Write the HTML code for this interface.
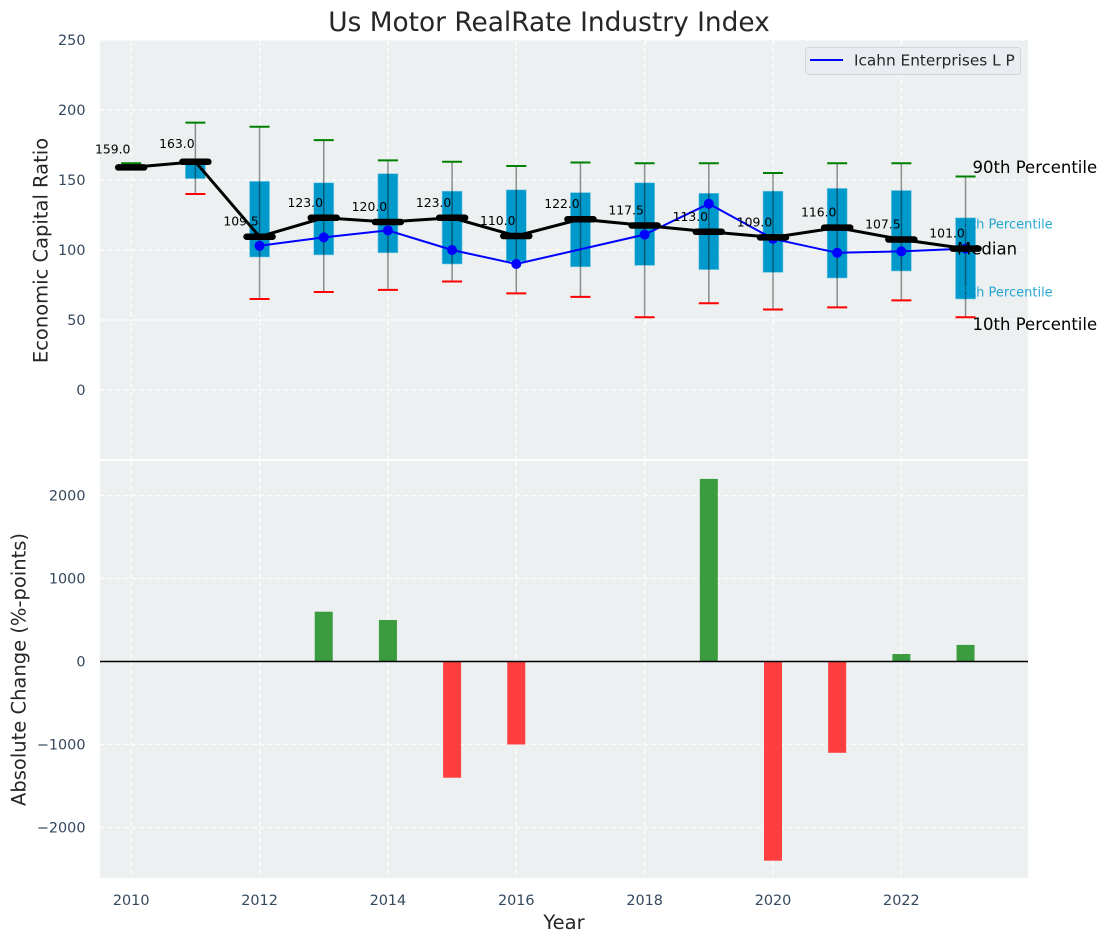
<!DOCTYPE html>
<html lang="en">
<head>
<meta charset="utf-8">
<title>Us Motor RealRate Industry Index</title>
<style>
html,body{margin:0;padding:0;background:#fff;}
svg{display:block;font-family:"DejaVu Sans","Liberation Sans",sans-serif;}
</style>
</head>
<body>
<svg id="chart" xmlns="http://www.w3.org/2000/svg" width="1107" height="942" viewBox="0 0 1107 942">
<rect x="100" y="40" width="928" height="419" fill="#ecf0f1"/>
<rect x="100" y="461" width="928" height="417" fill="#ecf0f1"/>
<g id="grid"></g>
<g id="bars"></g>
<g id="boxes"></g>
<g id="lines"></g>
<g id="labels"></g>
<text x="549" y="31" text-anchor="middle" font-size="26.4" fill="#262626">Us Motor RealRate Industry Index</text>
<text transform="translate(47.5,250.5) rotate(-90)" text-anchor="middle" font-size="19.5" fill="#262626">Economic Capital Ratio</text>
<text transform="translate(25.5,669.5) rotate(-90)" text-anchor="middle" font-size="19.5" fill="#262626">Absolute Change (%-points)</text>
<text x="564" y="929" text-anchor="middle" font-size="19.5" fill="#262626">Year</text>
<g>
<rect x="805.5" y="47.5" width="215" height="27" rx="3" fill="#e9ecf0" stroke="#d3d6d9" stroke-width="1"/>
<line x1="810" y1="60" x2="843" y2="60" stroke="#0000ff" stroke-width="2"/>
<text x="854" y="65.5" font-size="15.3" fill="#262626">Icahn Enterprises L P</text>
</g>
</svg>
<script>
const years = [2010,2011,2012,2013,2014,2015,2016,2017,2018,2019,2020,2021,2022,2023];
const p90 = [162,191,188,178.5,164,163,160,162.5,162,162,155,162,162,152.5];
const p75 = [null,163,149,148,154.5,142,143,141,148,140.5,142,144,142.5,123];
const medians = [159,163,109.5,123,120,123,110,122,117.5,113,109,116,107.5,101];
const p25 = [null,151,95,96.5,98,90,92,88,89,86,84,80,85,65];
const p10 = [null,140,65,70,71.5,77.5,69,66.5,52,62,57.5,59,64,52];
const company = [null,null,103,109,114,100,90,null,111,133,108,98,99,101];
const changes = [null,null,null,600,500,-1400,-1000,null,null,2200,-2400,-1100,90,200];
const xTicks = [2010,2012,2014,2016,2018,2020,2022];
const yTopTicks = [0,50,100,150,200,250];
const yBottomTicks = [-2000,-1000,0,1000,2000];

const SVGNS = 'http://www.w3.org/2000/svg';
const xScale = v => 131.2 + (v - 2010) * 64.18;
const yTop = v => 390 - v * 1.4;
const yBottom = v => 661.5 - v * 0.083;

function mk(tag, parent, attrs, text) {
  const n = document.createElementNS(SVGNS, tag);
  for (const k in attrs) n.setAttribute(k, attrs[k]);
  if (text !== undefined) n.textContent = text;
  document.getElementById(parent).appendChild(n);
  return n;
}
let el;
const gridStyle = {stroke:'#ffffff','stroke-width':1.2,'stroke-dasharray':'5 3',opacity:0.95};

xTicks.forEach(t => {
  el = mk('line','grid',Object.assign({x1:xScale(t),x2:xScale(t),y1:40,y2:459},gridStyle));
  
  
  el = mk('line','grid',Object.assign({x1:xScale(t),x2:xScale(t),y1:461,y2:878},gridStyle));
  
  
  el = mk('text','labels',{x:xScale(t),y:905,'text-anchor':'middle','font-size':14.4,fill:'#34495e'},String(t));
  
  
});
yTopTicks.forEach(t => {
  el = mk('line','grid',Object.assign({x1:100,x2:1028,y1:yTop(t),y2:yTop(t)},gridStyle));
  
  
  el = mk('text','labels',{x:85.5,y:yTop(t)+5,'text-anchor':'end','font-size':14.4,fill:'#34495e'},String(t));
  
  
});
yBottomTicks.forEach(t => {
  el = mk('line','grid',Object.assign({x1:100,x2:1028,y1:yBottom(t),y2:yBottom(t)},gridStyle));
  
  
  el = mk('text','labels',{x:85.5,y:yBottom(t)+5,'text-anchor':'end','font-size':14.4,fill:'#34495e'},String(t).replace('-','\u2212'));
  
  
});

changes.forEach((v,i) => {
  if (v === null) return;
  const y0 = yBottom(0), y1 = yBottom(v);
  el = mk('rect','bars',{x:xScale(years[i])-9,width:18,y:Math.min(y0,y1),height:Math.abs(y1-y0),fill:v>=0?'#3a9c3e':'#ff3f3f'});
  
  
});
el = mk('line','bars',{x1:100,x2:1028,y1:yBottom(0),y2:yBottom(0),stroke:'#000','stroke-width':1.4});



years.forEach((yr,i) => {
  const x = xScale(yr);
  if (p75[i] !== null) {
    el = mk('rect','boxes',{x:x-10,width:20,y:yTop(p75[i]),height:yTop(p25[i])-yTop(p75[i]),fill:'#0099cc','stroke':'#7fcbe5','stroke-width':0.6});
    
    
  }
  if (p10[i] !== null) {
    el = mk('line','boxes',{x1:x,x2:x,y1:yTop(p90[i]),y2:yTop(p10[i]),stroke:'#000','stroke-opacity':0.42,'stroke-width':1.5});
    
    
    el = mk('line','boxes',{x1:x-10,x2:x+10,y1:yTop(p10[i]),y2:yTop(p10[i]),stroke:'#ff0000','stroke-width':2});
    
    
  }
  el = mk('line','boxes',{x1:x-10,x2:x+10,y1:yTop(p90[i]),y2:yTop(p90[i]),stroke:'#008000','stroke-width':2});
  
  
});

const bluePts = years.map((yr,i)=>company[i]===null?null:[xScale(yr),yTop(company[i])]).filter(Boolean);
el = mk('polyline','lines',{points:bluePts.map(p=>p.join(',')).join(' '),fill:'none',stroke:'#0000ff','stroke-width':2});


bluePts.forEach(p => {
  el = mk('circle','lines',{cx:p[0],cy:p[1],r:5,fill:'#0000ff'});
  
  
});
el = mk('polyline','lines',{points:years.map((yr,i)=>xScale(yr)+','+yTop(medians[i])).join(' '),fill:'none',stroke:'#000','stroke-width':3});


years.forEach((yr,i) => {
  const x = xScale(yr), y = yTop(medians[i]);
  el = mk('line','lines',{x1:x-13,x2:x+13,y1:y,y2:y,stroke:'#000','stroke-width':6.5,'stroke-linecap':'round'});
  
  
  el = mk('text','lines',{x:x-18.5,y:y-(medians[i]>150?14:11),'text-anchor':'middle','font-size':12.4,fill:'#000'},medians[i].toFixed(1));
  
  
});

const lastX = xScale(years[years.length-1]);
el = mk('text','lines',{x:lastX+7,y:173,'font-size':16.5,fill:'#000'},'90th Percentile');


el = mk('text','lines',{x:lastX-11,y:228.5,'font-size':13,fill:'#0099cc','fill-opacity':0.85},'75th Percentile');


el = mk('text','lines',{x:lastX-8.5,y:254.5,'font-size':16.5,fill:'#000'},'Median');


el = mk('text','lines',{x:lastX-11,y:296.5,'font-size':13,fill:'#0099cc','fill-opacity':0.85},'25th Percentile');


el = mk('text','lines',{x:lastX+7,y:330,'font-size':16.5,fill:'#000'},'10th Percentile');


</script>
</body>
</html>
